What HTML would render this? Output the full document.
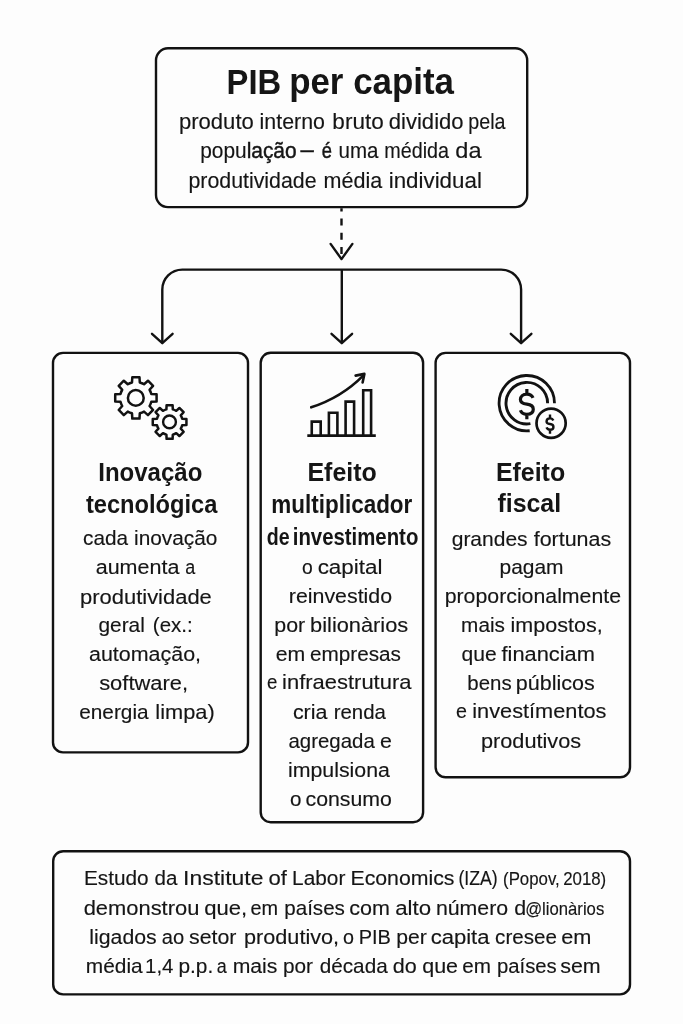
<!DOCTYPE html>
<html><head><meta charset="utf-8"><style>
html,body{margin:0;padding:0;background:#fdfdfd;}
svg{display:block;will-change:transform;}
</style></head><body>
<svg width="683" height="1024" viewBox="0 0 683 1024" font-family='"Liberation Sans", sans-serif' fill="#151515">
<rect x="0" y="0" width="683" height="1024" fill="#fdfdfd"/>
<rect x="156.00" y="48.30" width="371.20" height="158.80" rx="12" ry="12" fill="none" stroke="#121212" stroke-width="2.4"/>
<rect x="53.00" y="352.90" width="195.00" height="399.50" rx="10" ry="10" fill="none" stroke="#121212" stroke-width="2.4"/>
<rect x="260.70" y="352.80" width="162.40" height="469.40" rx="10" ry="10" fill="none" stroke="#121212" stroke-width="2.4"/>
<rect x="435.60" y="352.90" width="194.40" height="424.40" rx="10" ry="10" fill="none" stroke="#121212" stroke-width="2.4"/>
<rect x="53.20" y="851.20" width="576.80" height="143.20" rx="10" ry="10" fill="none" stroke="#121212" stroke-width="2.4"/>
<line x1="341.5" y1="208.2" x2="341.5" y2="256" stroke="#121212" stroke-width="2.4" stroke-dasharray="7 7.2" stroke-dashoffset="3.8"/>
<polyline points="330.6,243.9 341.5,259.1 352.4,243.9" fill="none" stroke="#121212" stroke-width="2.4" stroke-linejoin="round" stroke-linecap="round"/>
<path d="M162.3,343.2 L162.3,289.6 A20,20 0 0 1 182.3,269.6 L501.1,269.6 A20,20 0 0 1 521.1,289.6 L521.1,343.2" fill="none" stroke="#121212" stroke-width="2.4"/>
<line x1="341.8" y1="269.6" x2="341.8" y2="343.2" stroke="#121212" stroke-width="2.4"/>
<polyline points="152.0,333.8 162.3,343.2 172.6,333.8" fill="none" stroke="#121212" stroke-width="2.4" stroke-linejoin="round" stroke-linecap="round"/>
<polyline points="331.5,333.8 341.8,343.2 352.1,333.8" fill="none" stroke="#121212" stroke-width="2.4" stroke-linejoin="round" stroke-linecap="round"/>
<polyline points="510.8,333.8 521.1,343.2 531.4,333.8" fill="none" stroke="#121212" stroke-width="2.4" stroke-linejoin="round" stroke-linecap="round"/>
<path d="M132.00,382.49 L132.30,377.21 L139.50,377.21 L139.80,382.49 A15.9,15.9 0 0 1 144.04,384.24 L147.98,380.72 L153.08,385.82 L149.56,389.76 A15.9,15.9 0 0 1 151.31,394.00 L156.59,394.30 L156.59,401.50 L151.31,401.80 A15.9,15.9 0 0 1 149.56,406.04 L153.08,409.98 L147.98,415.08 L144.04,411.56 A15.9,15.9 0 0 1 139.80,413.31 L139.50,418.59 L132.30,418.59 L132.00,413.31 A15.9,15.9 0 0 1 127.76,411.56 L123.82,415.08 L118.72,409.98 L122.24,406.04 A15.9,15.9 0 0 1 120.49,401.80 L115.21,401.50 L115.21,394.30 L120.49,394.00 A15.9,15.9 0 0 1 122.24,389.76 L118.72,385.82 L123.82,380.72 L127.76,384.24 A15.9,15.9 0 0 1 132.00,382.49Z" fill="none" stroke="#121212" stroke-width="2.5" stroke-linejoin="round"/>
<circle cx="135.8" cy="397.9" r="7.9" fill="none" stroke="#121212" stroke-width="2.5"/>
<path d="M166.40,409.40 L166.60,405.17 L172.60,405.17 L172.80,409.40 A13.0,13.0 0 0 1 176.25,410.83 L179.38,407.97 L183.63,412.22 L180.77,415.35 A13.0,13.0 0 0 1 182.20,418.80 L186.43,419.00 L186.43,425.00 L182.20,425.20 A13.0,13.0 0 0 1 180.77,428.65 L183.63,431.78 L179.38,436.03 L176.25,433.17 A13.0,13.0 0 0 1 172.80,434.60 L172.60,438.83 L166.60,438.83 L166.40,434.60 A13.0,13.0 0 0 1 162.95,433.17 L159.82,436.03 L155.57,431.78 L158.43,428.65 A13.0,13.0 0 0 1 157.00,425.20 L152.77,425.00 L152.77,419.00 L157.00,418.80 A13.0,13.0 0 0 1 158.43,415.35 L155.57,412.22 L159.82,407.97 L162.95,410.83 A13.0,13.0 0 0 1 166.40,409.40Z" fill="none" stroke="#121212" stroke-width="2.5" stroke-linejoin="round"/>
<circle cx="169.5" cy="421.9" r="6.4" fill="none" stroke="#121212" stroke-width="2.4"/>
<line x1="307.3" y1="435.6" x2="375.8" y2="435.6" stroke="#121212" stroke-width="2.6"/>
<path d="M311.75,435.6 L311.75,421.60 L320.70,421.60 L320.70,435.6" fill="none" stroke="#121212" stroke-width="2.6"/>
<path d="M328.90,435.6 L328.90,412.70 L337.40,412.70 L337.40,435.6" fill="none" stroke="#121212" stroke-width="2.6"/>
<path d="M345.60,435.6 L345.60,401.60 L354.10,401.60 L354.10,435.6" fill="none" stroke="#121212" stroke-width="2.6"/>
<path d="M363.20,435.6 L363.20,390.20 L371.10,390.20 L371.10,435.6" fill="none" stroke="#121212" stroke-width="2.6"/>
<path d="M311.2,407.3 Q341.5,397.5 363.2,375.6" fill="none" stroke="#121212" stroke-width="2.6" stroke-linecap="round"/>
<polyline points="355.6,375.6 364.4,373.9 362.6,382.4" fill="none" stroke="#121212" stroke-width="2.6" stroke-linejoin="round" stroke-linecap="round"/>
<path d="M554.50,403.20 A27.7,27.7 0 1 0 529.70,430.75" fill="none" stroke="#121212" stroke-width="2.8" stroke-linecap="butt"/>
<path d="M547.60,403.20 A20.8,20.8 0 1 0 530.41,423.68" fill="none" stroke="#121212" stroke-width="2.9" stroke-linecap="butt"/>
<path d="M533.01,397.94 C531.89,395.11 529.51,394.10 526.85,394.10 C523.00,394.10 520.41,396.32 520.41,399.55 C520.41,403.19 523.35,403.80 526.85,404.20 C530.35,404.60 533.29,405.61 533.29,409.25 C533.29,412.48 530.70,414.30 526.85,414.30 C523.91,414.30 521.39,413.09 520.41,410.26 M526.85,389.10 L526.85,394.10 M526.85,414.30 L526.85,419.30" fill="none" stroke="#121212" stroke-width="3.2" stroke-linecap="butt"/>
<circle cx="551.1" cy="423.2" r="14.6" fill="#fdfdfd" stroke="#121212" stroke-width="2.7"/>
<path d="M553.30,420.55 C552.70,418.97 551.42,418.40 550.00,418.40 C547.94,418.40 546.55,419.64 546.55,421.45 C546.55,423.49 548.12,423.82 550.00,424.05 C551.88,424.28 553.45,424.84 553.45,426.88 C553.45,428.68 552.06,429.70 550.00,429.70 C548.42,429.70 547.08,429.02 546.55,427.44 M550.00,414.40 L550.00,418.40 M550.00,429.70 L550.00,433.70" fill="none" stroke="#121212" stroke-width="2.4" stroke-linecap="butt"/>
<text transform="translate(226.58,94.00) scale(0.9105,1)" xml:space="preserve"><tspan font-size="36" font-weight="bold">PIB</tspan></text>
<text transform="translate(289.16,94.00) scale(0.9696,1)" xml:space="preserve"><tspan font-size="36" font-weight="bold">per capita</tspan></text>
<text transform="translate(178.98,128.50) scale(1.0167,1)" xml:space="preserve"><tspan font-size="21.7" stroke="#151515" stroke-width="0.15" word-spacing="-1.3">produto</tspan></text>
<text transform="translate(259.62,128.50) scale(0.9846,1)" xml:space="preserve"><tspan font-size="21.7" stroke="#151515" stroke-width="0.15" word-spacing="-1.3">interno</tspan></text>
<text transform="translate(332.36,128.50) scale(1.0375,1)" xml:space="preserve"><tspan font-size="21.7" stroke="#151515" stroke-width="0.15" word-spacing="-1.3">bruto</tspan></text>
<text transform="translate(388.78,128.50) scale(1.0167,1)" xml:space="preserve"><tspan font-size="21.7" stroke="#151515" stroke-width="0.15" word-spacing="-1.3">dividido</tspan></text>
<text transform="translate(468.29,128.50) scale(0.9075,1)" xml:space="preserve"><tspan font-size="21.7" stroke="#151515" stroke-width="0.15" word-spacing="-1.3">pela</tspan></text>
<text transform="translate(200.14,158.20) scale(0.9636,1)" xml:space="preserve"><tspan font-size="21.7" stroke="#151515" stroke-width="0.15" word-spacing="-1.3">popu</tspan><tspan font-size="21.7" stroke="#151515" stroke-width="0.45" word-spacing="-1.3">lação</tspan></text>
<text transform="translate(300.80,157.20) scale(1.0615,1)" xml:space="preserve"><tspan font-size="21.7" stroke="#151515" stroke-width="0.7" word-spacing="-1.3">–</tspan></text>
<text transform="translate(321.65,158.20) scale(0.8455,1)" xml:space="preserve"><tspan font-size="21.7" stroke="#151515" stroke-width="0.45" word-spacing="-1.3">é</tspan></text>
<text transform="translate(338.45,158.20) scale(0.9476,1)" xml:space="preserve"><tspan font-size="21.7" stroke="#151515" stroke-width="0.15" word-spacing="-1.3">uma</tspan></text>
<text transform="translate(384.29,158.20) scale(0.9100,1)" xml:space="preserve"><tspan font-size="21.7" stroke="#151515" stroke-width="0.15" word-spacing="-1.3">médida</tspan></text>
<text transform="translate(455.31,158.20) scale(1.0870,1)" xml:space="preserve"><tspan font-size="21.7" stroke="#151515" stroke-width="0.15" word-spacing="-1.3">da</tspan></text>
<text transform="translate(188.42,187.70) scale(0.9845,1)" xml:space="preserve"><tspan font-size="21.7" stroke="#151515" stroke-width="0.15" word-spacing="-1.3">produtividade</tspan></text>
<text transform="translate(323.61,187.70) scale(0.9931,1)" xml:space="preserve"><tspan font-size="21.7" stroke="#151515" stroke-width="0.15" word-spacing="-1.3">média</tspan></text>
<text transform="translate(388.67,187.70) scale(1.0307,1)" xml:space="preserve"><tspan font-size="21.7" stroke="#151515" stroke-width="0.15" word-spacing="-1.3">individual</tspan></text>
<text transform="translate(98.25,480.50) scale(0.9245,1)" xml:space="preserve"><tspan font-size="26" font-weight="bold">Inovação</tspan></text>
<text transform="translate(85.90,512.50) scale(0.9103,1)" xml:space="preserve"><tspan font-size="26" font-weight="bold">tecnológica</tspan></text>
<text transform="translate(83.01,544.80) scale(0.9889,1)" xml:space="preserve"><tspan font-size="21" stroke="#151515" stroke-width="0.15" word-spacing="-1.3">cada</tspan></text>
<text transform="translate(134.01,544.80) scale(0.9916,1)" xml:space="preserve"><tspan font-size="21" stroke="#151515" stroke-width="0.15" word-spacing="-1.3">inovação</tspan></text>
<text transform="translate(95.68,574.10) scale(1.0247,1)" xml:space="preserve"><tspan font-size="21" stroke="#151515" stroke-width="0.15" word-spacing="-1.3">aumenta</tspan></text>
<text transform="translate(185.15,574.10) scale(0.8545,1)" xml:space="preserve"><tspan font-size="21" stroke="#151515" stroke-width="0.15" word-spacing="-1.3">a</tspan></text>
<text transform="translate(80.05,603.80) scale(1.0456,1)" xml:space="preserve"><tspan font-size="21" stroke="#151515" stroke-width="0.15" word-spacing="-1.3">produtividade</tspan></text>
<text transform="translate(98.51,632.30) scale(0.9933,1)" xml:space="preserve"><tspan font-size="21" stroke="#151515" stroke-width="0.15" word-spacing="-1.3">geral</tspan></text>
<text transform="translate(152.82,632.30) scale(0.9763,1)" xml:space="preserve"><tspan font-size="21" stroke="#151515" stroke-width="0.15" word-spacing="-1.3">(ex.:</tspan></text>
<text transform="translate(88.98,660.90) scale(1.0215,1)" xml:space="preserve"><tspan font-size="21" stroke="#151515" stroke-width="0.15" word-spacing="-1.3">automação,</tspan></text>
<text transform="translate(99.16,689.90) scale(1.0434,1)" xml:space="preserve"><tspan font-size="21" stroke="#151515" stroke-width="0.15" word-spacing="-1.3">software,</tspan></text>
<text transform="translate(79.21,718.70) scale(0.9913,1)" xml:space="preserve"><tspan font-size="21" stroke="#151515" stroke-width="0.15" word-spacing="-1.3">energia</tspan></text>
<text transform="translate(155.36,718.70) scale(1.0382,1)" xml:space="preserve"><tspan font-size="21" stroke="#151515" stroke-width="0.15" word-spacing="-1.3">limpa)</tspan></text>
<text transform="translate(307.48,480.50) scale(0.9594,1)" xml:space="preserve"><tspan font-size="26" font-weight="bold">Efeito</tspan></text>
<text transform="translate(271.37,512.70) scale(0.8640,1)" xml:space="preserve"><tspan font-size="26" font-weight="bold">multiplicador</tspan></text>
<text transform="translate(266.80,544.90) scale(0.8000,1)" xml:space="preserve"><tspan font-size="24.5" font-weight="bold">de</tspan></text>
<text transform="translate(292.74,544.90) scale(0.8318,1)" xml:space="preserve"><tspan font-size="24.5" font-weight="bold">investimento</tspan></text>
<text transform="translate(301.98,574.30) scale(0.9200,1)" xml:space="preserve"><tspan font-size="21" stroke="#151515" stroke-width="0.15" word-spacing="-1.3">o</tspan></text>
<text transform="translate(317.63,574.30) scale(1.0678,1)" xml:space="preserve"><tspan font-size="21" stroke="#151515" stroke-width="0.15" word-spacing="-1.3">capital</tspan></text>
<text transform="translate(288.78,603.00) scale(1.0180,1)" xml:space="preserve"><tspan font-size="21" stroke="#151515" stroke-width="0.15" word-spacing="-1.3">reinvestido</tspan></text>
<text transform="translate(274.28,632.00) scale(1.0172,1)" xml:space="preserve"><tspan font-size="21" stroke="#151515" stroke-width="0.15" word-spacing="-1.3">por</tspan></text>
<text transform="translate(310.06,632.00) scale(1.0387,1)" xml:space="preserve"><tspan font-size="21" stroke="#151515" stroke-width="0.15" word-spacing="-1.3">bilionàrios</tspan></text>
<text transform="translate(275.69,660.70) scale(1.0148,1)" xml:space="preserve"><tspan font-size="21" stroke="#151515" stroke-width="0.15" word-spacing="-1.3">em</tspan></text>
<text transform="translate(309.91,660.70) scale(0.9879,1)" xml:space="preserve"><tspan font-size="21" stroke="#151515" stroke-width="0.15" word-spacing="-1.3">empresas</tspan></text>
<text transform="translate(267.11,689.20) scale(0.8900,1)" xml:space="preserve"><tspan font-size="21" stroke="#151515" stroke-width="0.15" word-spacing="-1.3">e</tspan></text>
<text transform="translate(282.05,689.20) scale(1.0463,1)" xml:space="preserve"><tspan font-size="21" stroke="#151515" stroke-width="0.15" word-spacing="-1.3">infraestrutura</tspan></text>
<text transform="translate(292.88,718.60) scale(1.0212,1)" xml:space="preserve"><tspan font-size="21" stroke="#151515" stroke-width="0.15" word-spacing="-1.3">cria</tspan></text>
<text transform="translate(333.63,718.60) scale(0.9736,1)" xml:space="preserve"><tspan font-size="21" stroke="#151515" stroke-width="0.15" word-spacing="-1.3">renda</tspan></text>
<text transform="translate(288.43,747.70) scale(0.9739,1)" xml:space="preserve"><tspan font-size="21" stroke="#151515" stroke-width="0.15" word-spacing="-1.3">agregada</tspan></text>
<text transform="translate(379.88,747.70) scale(1.0200,1)" xml:space="preserve"><tspan font-size="21" stroke="#151515" stroke-width="0.15" word-spacing="-1.3">e</tspan></text>
<text transform="translate(287.98,777.00) scale(1.0160,1)" xml:space="preserve"><tspan font-size="21" stroke="#151515" stroke-width="0.15" word-spacing="-1.3">impulsiona</tspan></text>
<text transform="translate(290.02,805.90) scale(0.9800,1)" xml:space="preserve"><tspan font-size="21" stroke="#151515" stroke-width="0.15" word-spacing="-1.3">o</tspan></text>
<text transform="translate(305.49,805.90) scale(1.0143,1)" xml:space="preserve"><tspan font-size="21" stroke="#151515" stroke-width="0.15" word-spacing="-1.3">consumo</tspan></text>
<text transform="translate(495.88,480.50) scale(0.9594,1)" xml:space="preserve"><tspan font-size="26" font-weight="bold">Efeito</tspan></text>
<text transform="translate(497.40,512.40) scale(0.9781,1)" xml:space="preserve"><tspan font-size="25.5" font-weight="bold">fiscal</tspan></text>
<text transform="translate(451.70,545.50) scale(1.0000,1)" xml:space="preserve"><tspan font-size="21" stroke="#151515" stroke-width="0.15" word-spacing="-1.3">grandes</tspan></text>
<text transform="translate(533.70,545.50) scale(1.0211,1)" xml:space="preserve"><tspan font-size="21" stroke="#151515" stroke-width="0.15" word-spacing="-1.3">fortunas</tspan></text>
<text transform="translate(499.50,573.60) scale(0.9984,1)" xml:space="preserve"><tspan font-size="21" stroke="#151515" stroke-width="0.15" word-spacing="-1.3">pagam</tspan></text>
<text transform="translate(444.69,603.20) scale(1.0145,1)" xml:space="preserve"><tspan font-size="21" stroke="#151515" stroke-width="0.15" word-spacing="-1.3">proporcionalmente</tspan></text>
<text transform="translate(461.11,631.60) scale(0.9884,1)" xml:space="preserve"><tspan font-size="21" stroke="#151515" stroke-width="0.15" word-spacing="-1.3">mais</tspan></text>
<text transform="translate(510.57,631.60) scale(1.0253,1)" xml:space="preserve"><tspan font-size="21" stroke="#151515" stroke-width="0.15" word-spacing="-1.3">impostos,</tspan></text>
<text transform="translate(461.59,660.70) scale(1.0061,1)" xml:space="preserve"><tspan font-size="21" stroke="#151515" stroke-width="0.15" word-spacing="-1.3">que</tspan></text>
<text transform="translate(501.50,660.70) scale(1.0393,1)" xml:space="preserve"><tspan font-size="21" stroke="#151515" stroke-width="0.15" word-spacing="-1.3">financiam</tspan></text>
<text transform="translate(467.33,689.50) scale(0.9727,1)" xml:space="preserve"><tspan font-size="21" stroke="#151515" stroke-width="0.15" word-spacing="-1.3">bens</tspan></text>
<text transform="translate(515.78,689.50) scale(1.0237,1)" xml:space="preserve"><tspan font-size="21" stroke="#151515" stroke-width="0.15" word-spacing="-1.3">públicos</tspan></text>
<text transform="translate(455.96,718.20) scale(0.9400,1)" xml:space="preserve"><tspan font-size="21" stroke="#151515" stroke-width="0.15" word-spacing="-1.3">e</tspan></text>
<text transform="translate(472.26,718.20) scale(1.0359,1)" xml:space="preserve"><tspan font-size="21" stroke="#151515" stroke-width="0.15" word-spacing="-1.3">investímentos</tspan></text>
<text transform="translate(480.97,748.20) scale(1.0344,1)" xml:space="preserve"><tspan font-size="21" stroke="#151515" stroke-width="0.15" word-spacing="-1.3">produtivos</tspan></text>
<text transform="translate(83.92,885.40) scale(0.9905,1)" xml:space="preserve"><tspan font-size="21" stroke="#151515" stroke-width="0.15" word-spacing="-1.3">Estudo</tspan></text>
<text transform="translate(154.52,885.40) scale(0.9783,1)" xml:space="preserve"><tspan font-size="21" stroke="#151515" stroke-width="0.15" word-spacing="-1.3">da</tspan></text>
<text transform="translate(183.11,885.40) scale(1.0930,1)" xml:space="preserve"><tspan font-size="21" stroke="#151515" stroke-width="0.15" word-spacing="-1.3">Institute</tspan></text>
<text transform="translate(268.55,885.40) scale(1.0529,1)" xml:space="preserve"><tspan font-size="21" stroke="#151515" stroke-width="0.15" word-spacing="-1.3">of</tspan></text>
<text transform="translate(292.12,885.40) scale(0.9923,1)" xml:space="preserve"><tspan font-size="21" stroke="#151515" stroke-width="0.15" word-spacing="-1.3">Labor</tspan></text>
<text transform="translate(350.47,885.40) scale(1.0130,1)" xml:space="preserve"><tspan font-size="21" stroke="#151515" stroke-width="0.15" word-spacing="-1.3">Economics</tspan></text>
<text transform="translate(458.46,885.40) scale(0.8422,1)" xml:space="preserve"><tspan font-size="21" stroke="#151515" stroke-width="0.15" word-spacing="-1.3">(IZA)</tspan></text>
<text transform="translate(503.04,884.60) scale(0.9623,1)" xml:space="preserve"><tspan font-size="17.5" stroke="#151515" stroke-width="0.15" word-spacing="-1.3">(Popov, 2018)</tspan></text>
<text transform="translate(83.66,914.50) scale(1.0440,1)" xml:space="preserve"><tspan font-size="21" stroke="#151515" stroke-width="0.15" word-spacing="-1.3">demonstrou</tspan></text>
<text transform="translate(204.15,914.50) scale(1.0526,1)" xml:space="preserve"><tspan font-size="21" stroke="#151515" stroke-width="0.15" word-spacing="-1.3">que,</tspan></text>
<text transform="translate(250.45,914.50) scale(0.9481,1)" xml:space="preserve"><tspan font-size="21" stroke="#151515" stroke-width="0.15" word-spacing="-1.3">em</tspan></text>
<text transform="translate(284.22,914.50) scale(0.9817,1)" xml:space="preserve"><tspan font-size="21" stroke="#151515" stroke-width="0.15" word-spacing="-1.3">países</tspan></text>
<text transform="translate(349.17,914.50) scale(1.0263,1)" xml:space="preserve"><tspan font-size="21" stroke="#151515" stroke-width="0.15" word-spacing="-1.3">com</tspan></text>
<text transform="translate(395.24,914.50) scale(1.0594,1)" xml:space="preserve"><tspan font-size="21" stroke="#151515" stroke-width="0.15" word-spacing="-1.3">alto</tspan></text>
<text transform="translate(435.88,914.50) scale(1.0157,1)" xml:space="preserve"><tspan font-size="21" stroke="#151515" stroke-width="0.15" word-spacing="-1.3">número</tspan></text>
<text transform="translate(514.18,914.50) scale(1.0200,1)" xml:space="preserve"><tspan font-size="21" stroke="#151515" stroke-width="0.15" word-spacing="-1.3">d</tspan></text>
<text transform="translate(525.17,914.50) scale(0.9274,1)" xml:space="preserve"><tspan font-size="18" stroke="#151515" stroke-width="0.15" word-spacing="-1.3">@lionàrios</tspan></text>
<text transform="translate(89.29,943.70) scale(1.0138,1)" xml:space="preserve"><tspan font-size="21" stroke="#151515" stroke-width="0.15" word-spacing="-1.3">ligados</tspan></text>
<text transform="translate(161.84,943.70) scale(0.9591,1)" xml:space="preserve"><tspan font-size="21" stroke="#151515" stroke-width="0.15" word-spacing="-1.3">ao</tspan></text>
<text transform="translate(189.08,943.70) scale(1.0152,1)" xml:space="preserve"><tspan font-size="21" stroke="#151515" stroke-width="0.15" word-spacing="-1.3">setor</tspan></text>
<text transform="translate(243.97,943.70) scale(1.0322,1)" xml:space="preserve"><tspan font-size="21" stroke="#151515" stroke-width="0.15" word-spacing="-1.3">produtivo,</tspan></text>
<text transform="translate(342.96,943.70) scale(0.9400,1)" xml:space="preserve"><tspan font-size="21" stroke="#151515" stroke-width="0.15" word-spacing="-1.3">o</tspan></text>
<text transform="translate(358.70,943.70) scale(0.9516,1)" xml:space="preserve"><tspan font-size="21" stroke="#151515" stroke-width="0.15" word-spacing="-1.3">PIB</tspan></text>
<text transform="translate(396.19,943.70) scale(1.0069,1)" xml:space="preserve"><tspan font-size="21" stroke="#151515" stroke-width="0.15" word-spacing="-1.3">per</tspan></text>
<text transform="translate(430.65,943.70) scale(1.0509,1)" xml:space="preserve"><tspan font-size="21" stroke="#151515" stroke-width="0.15" word-spacing="-1.3">capita</tspan></text>
<text transform="translate(495.12,943.70) scale(0.9820,1)" xml:space="preserve"><tspan font-size="21" stroke="#151515" stroke-width="0.15" word-spacing="-1.3">cresee</tspan></text>
<text transform="translate(561.16,943.70) scale(1.0370,1)" xml:space="preserve"><tspan font-size="21" stroke="#151515" stroke-width="0.15" word-spacing="-1.3">em</tspan></text>
<text transform="translate(85.81,973.00) scale(0.9946,1)" xml:space="preserve"><tspan font-size="21" stroke="#151515" stroke-width="0.15" word-spacing="-1.3">média</tspan></text>
<text transform="translate(145.03,973.00) scale(0.9750,1)" xml:space="preserve"><tspan font-size="21" stroke="#151515" stroke-width="0.15" word-spacing="-1.3">1,4</tspan></text>
<text transform="translate(178.41,973.00) scale(0.9937,1)" xml:space="preserve"><tspan font-size="21" stroke="#151515" stroke-width="0.15" word-spacing="-1.3">p.p.</tspan></text>
<text transform="translate(216.85,973.00) scale(0.8545,1)" xml:space="preserve"><tspan font-size="21" stroke="#151515" stroke-width="0.15" word-spacing="-1.3">a</tspan></text>
<text transform="translate(232.69,973.00) scale(1.0093,1)" xml:space="preserve"><tspan font-size="21" stroke="#151515" stroke-width="0.15" word-spacing="-1.3">mais</tspan></text>
<text transform="translate(282.91,973.00) scale(0.9897,1)" xml:space="preserve"><tspan font-size="21" stroke="#151515" stroke-width="0.15" word-spacing="-1.3">por</tspan></text>
<text transform="translate(319.71,973.00) scale(0.9868,1)" xml:space="preserve"><tspan font-size="21" stroke="#151515" stroke-width="0.15" word-spacing="-1.3">década</tspan></text>
<text transform="translate(392.87,973.00) scale(1.0273,1)" xml:space="preserve"><tspan font-size="21" stroke="#151515" stroke-width="0.15" word-spacing="-1.3">do</tspan></text>
<text transform="translate(422.18,973.00) scale(1.0242,1)" xml:space="preserve"><tspan font-size="21" stroke="#151515" stroke-width="0.15" word-spacing="-1.3">que</tspan></text>
<text transform="translate(462.21,973.00) scale(0.9852,1)" xml:space="preserve"><tspan font-size="21" stroke="#151515" stroke-width="0.15" word-spacing="-1.3">em</tspan></text>
<text transform="translate(496.93,973.00) scale(0.9667,1)" xml:space="preserve"><tspan font-size="21" stroke="#151515" stroke-width="0.15" word-spacing="-1.3">países</tspan></text>
<text transform="translate(560.18,973.00) scale(1.0211,1)" xml:space="preserve"><tspan font-size="21" stroke="#151515" stroke-width="0.15" word-spacing="-1.3">sem</tspan></text>
</svg>
</body></html>
